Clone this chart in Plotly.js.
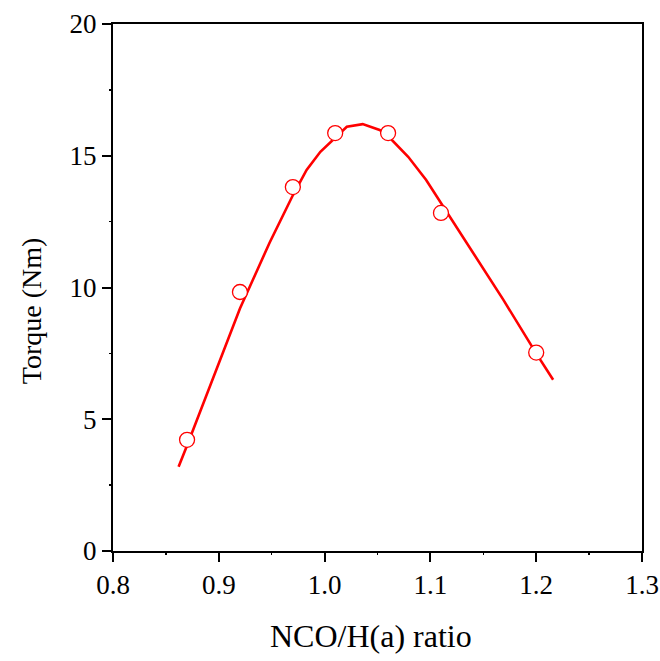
<!DOCTYPE html>
<html>
<head>
<meta charset="utf-8">
<script src="https://cdn.plot.ly/plotly-3.0.1.min.js"></script>
<style>html,body{margin:0;padding:0;background:#fff;}#chart{width:660px;height:661px;}</style>
</head>
<body>
<div id="chart"></div>
<script>
// Measured data points
const ratio = [0.87, 0.92, 0.97, 1.01, 1.06, 1.11, 1.20];
const torque = [4.22, 9.83, 13.81, 15.86, 15.86, 12.83, 7.53];

// Fitted curve
const fitRatio = [0.862, 0.87, 0.92, 0.948, 0.97, 0.983, 0.996, 1.01, 1.021, 1.036, 1.052, 1.06, 1.079, 1.096, 1.11, 1.128, 1.169, 1.20, 1.216];
const fitTorque = [3.2, 4.0, 9.2, 11.7, 13.5, 14.46, 15.15, 15.7, 16.1, 16.2, 15.98, 15.75, 14.96, 14.08, 13.2, 12.12, 9.53, 7.5, 6.5];

const xTicks = [0.8, 0.9, 1.0, 1.1, 1.2, 1.3];
const xTickText = ['0.8', '0.9', '1.0', '1.1', '1.2', '1.3'];
const yTicks = [0, 5, 10, 15, 20];
const yTickText = ['0', '5', '10', '15', '20'];

const xTitle = 'NCO/H(a) ratio';
const yTitle = 'Torque (Nm)';

const font = 'Liberation Serif';

const traces = [
  {
    x: fitRatio, y: fitTorque, mode: 'lines', type: 'scatter',
    line: {color: '#ff0000', width: 2.6}, hoverinfo: 'skip'
  },
  {
    x: ratio, y: torque, mode: 'markers', type: 'scatter',
    marker: {symbol: 'circle', size: 15, color: '#ffffff', line: {color: '#ff0000', width: 1.3}}
  }
];

const layout = {
  width: 660, height: 661,
  font: {family: font, color: '#000'},
  margin: {l: 113, r: 18, t: 24, b: 110},
  paper_bgcolor: '#fff', plot_bgcolor: '#fff',
  showlegend: false,
  xaxis: {
    showgrid: false, zeroline: false,
    showline: true, linecolor: '#000', linewidth: 2, mirror: true,
    ticks: 'outside', ticklen: 9, tickwidth: 2, tickcolor: '#000',
    tickfont: {family: font, size: 27, color: '#000'},
    range: [0.8, 1.3], tickmode: 'array', tickvals: xTicks, ticktext: xTickText,
    minor: {dtick: 0.05, ticks: 'outside', ticklen: 2, tickwidth: 1.5, tickcolor: '#000'}
  },
  yaxis: {
    showgrid: false, zeroline: false,
    showline: true, linecolor: '#000', linewidth: 2, mirror: true,
    ticks: 'outside', ticklen: 9, tickwidth: 2, tickcolor: '#000',
    tickfont: {family: font, size: 27, color: '#000'},
    range: [0, 20], tickmode: 'array', tickvals: yTicks, ticktext: yTickText,
    minor: {dtick: 2.5, ticks: 'outside', ticklen: 2, tickwidth: 1.5, tickcolor: '#000'}
  },
  annotations: [
    {text: xTitle, xref: 'paper', yref: 'paper', x: 0.4877, y: -0.1613,
     xanchor: 'center', yanchor: 'middle', showarrow: false,
     font: {family: font, size: 32, color: '#000'}},
    {text: yTitle, xref: 'paper', yref: 'paper', x: -0.155, y: 0.455,
     xanchor: 'center', yanchor: 'middle', showarrow: false, textangle: -90,
     font: {family: font, size: 28, color: '#000'}}
  ]
};

Plotly.newPlot('chart', traces, layout, {displayModeBar: false, staticPlot: true});
</script>
</body>
</html>
